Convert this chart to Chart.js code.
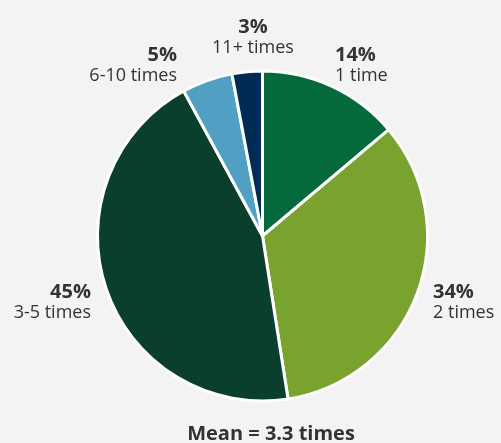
<!DOCTYPE html>
<html>
<head>
<meta charset="utf-8">
<script src="https://cdn.jsdelivr.net/npm/chart.js@4.4.1/dist/chart.umd.min.js"></script>
<style>
  html, body { margin: 0; padding: 0; background: #f3f3f3; }
  #wrap { width: 501px; height: 443px; position: relative; }
</style>
</head>
<body>
<div id="wrap"><canvas id="c" width="501" height="443"></canvas></div>
<script>
// How often: share of respondents by frequency group
const categories = ['1 time', '2 times', '3-5 times', '6-10 times', '11+ times'];
const shares = [14, 34, 45, 5, 3];
const sliceColors = ['#04693b', '#79a22e', '#0b3f2d', '#50a0c3', '#002b52'];
const meanLabel = 'Mean = 3.3 times';

// Where each slice's two-line label sits (x anchor, baseline of first line, alignment)
const labelSpots = [
  { x: 335, y: 61, align: 'left' },
  { x: 433, y: 298, align: 'left' },
  { x: 91, y: 298, align: 'right' },
  { x: 177, y: 61, align: 'right' },
  { x: 253, y: 33, align: 'center' }
];

const sliceLabels = {
  id: 'sliceLabels',
  afterDraw(chart) {
    const ctx = chart.ctx;
    const ds = chart.data.datasets[0];
    ctx.save();
    ctx.fillStyle = '#333333';
    ctx.textBaseline = 'alphabetic';
    ds.data.forEach((v, i) => {
      const s = labelSpots[i];
      ctx.textAlign = s.align;
      ctx.font = 'bold 20px "Open Sans", sans-serif';
      ctx.fillText(v + '%', s.x, s.y);
      ctx.font = '18px "Open Sans", sans-serif';
      ctx.fillText(chart.data.labels[i], s.x, s.y + 20);
    });
    ctx.textAlign = 'center';
    ctx.font = 'bold 20px "Open Sans", sans-serif';
    ctx.fillText(meanLabel, 271, 440);
    ctx.restore();
  }
};

new Chart(document.getElementById('c'), {
  type: 'pie',
  data: {
    labels: categories,
    datasets: [{
      data: shares,
      backgroundColor: sliceColors,
      borderColor: '#ffffff',
      borderWidth: 3
    }]
  },
  options: {
    responsive: false,
    animation: false,
    radius: 165,
    layout: { padding: { left: 24, right: 0, top: 40, bottom: 11 } },
    plugins: {
      legend: { display: false },
      tooltip: { enabled: false }
    }
  },
  plugins: [sliceLabels]
});
</script>
</body>
</html>
